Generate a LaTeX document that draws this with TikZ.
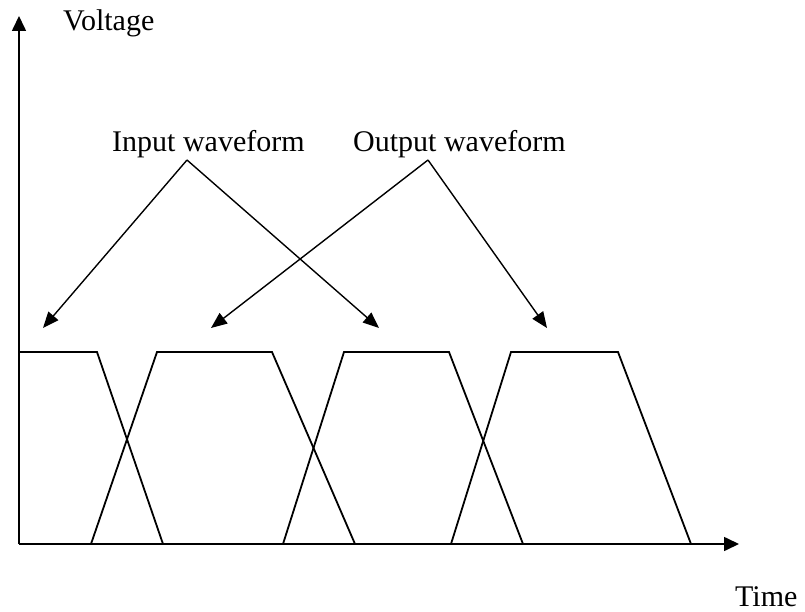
\documentclass[tikz,border=0pt]{standalone}
\usepackage{fontspec}
\setmainfont{Liberation Serif}
\usetikzlibrary{arrows.meta}
\tikzset{
  axisline/.style={line width=1.6pt,-{Triangle[length=15pt,width=14pt]}},
  wave/.style={line width=1.8pt,line join=miter},
  pointer/.style={line width=1.4pt,-{Triangle[length=16pt,width=13pt]}},
  lbl/.style={anchor=base west,inner sep=0pt,font=\fontsize{30}{36}\selectfont}
}
\begin{document}
\begin{tikzpicture}[x=1pt,y=-1pt]
\useasboundingbox (0,0) rectangle (805,612);
\coordinate (origin) at (19,544);
\coordinate (ytip) at (19,16);
\coordinate (xtip) at (739,544);
\draw[axisline] (origin) -- (ytip);
\draw[axisline] (origin) -- (xtip);
\node[lbl] (vlab) at (63,31) {Voltage};
\node[lbl] (tlab) at (735,606) {Time};
\node[lbl] (inlab) at (112,152) {Input waveform};
\node[lbl] (outlab) at (353,152) {Output waveform};
\coordinate (inapex) at (187,160);
\coordinate (outapex) at (428,160);
\coordinate (t1) at (43,328);
\coordinate (t2) at (211,328);
\coordinate (t3) at (379,328);
\coordinate (t4) at (547,328);
\draw[pointer] (inapex) -- (t1);
\draw[pointer] (inapex) -- (t3);
\draw[pointer] (outapex) -- (t2);
\draw[pointer] (outapex) -- (t4);
% input waveform
\draw[wave] (19,352) -- (97,352) -- (163,544) -- (283,544) -- (344,352) -- (449,352) -- (523,544);
% output waveform
\draw[wave] (91,544) -- (157,352) -- (272,352) -- (355,544) -- (451,544) -- (511,352) -- (618,352) -- (691,544);
\end{tikzpicture}
\end{document}
